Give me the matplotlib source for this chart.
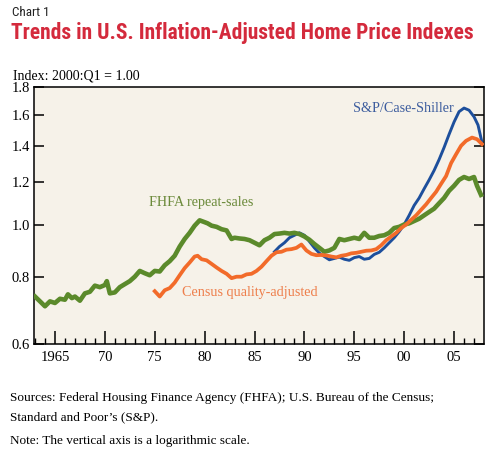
import numpy as np
import matplotlib
matplotlib.use("Agg")
import matplotlib.pyplot as plt
from matplotlib.ticker import FixedLocator, NullFormatter, FixedFormatter

# FHFA repeat-sales index
fhfa_year = [1963.0, 1963.5, 1964.0, 1964.5, 1965.0, 1965.5, 1966.0, 1966.3, 1966.7, 1967.0,
             1967.5, 1968.0, 1968.5, 1969.0, 1969.5, 1970.0, 1970.2, 1970.5, 1971.0, 1971.5,
             1972.0, 1972.5, 1973.0, 1973.5, 1974.0, 1974.5, 1975.0, 1975.5, 1976.0, 1976.5,
             1977.0, 1977.5, 1978.0, 1978.5, 1979.0, 1979.5, 1980.0, 1980.3, 1980.7, 1981.2,
             1981.7, 1982.2, 1982.7, 1983.0, 1983.5, 1984.0, 1984.5, 1985.0, 1985.5, 1986.0,
             1986.5, 1987.0, 1987.5, 1988.0, 1988.5, 1989.0, 1989.5, 1990.0, 1990.5, 1991.0,
             1991.5, 1992.0, 1992.5, 1993.0, 1993.5, 1994.0, 1994.5, 1995.0, 1995.5, 1996.0,
             1996.5, 1997.0, 1997.5, 1998.0, 1998.5, 1999.0, 1999.5, 2000.0, 2000.5, 2001.0,
             2001.5, 2002.0, 2002.5, 2003.0, 2003.5, 2004.0, 2004.5, 2005.0, 2005.5, 2006.0,
             2006.5, 2007.0, 2007.3, 2007.7]
fhfa_val = [0.735, 0.72, 0.705, 0.72, 0.715, 0.728, 0.725, 0.742, 0.73, 0.735,
            0.722, 0.745, 0.75, 0.77, 0.765, 0.772, 0.785, 0.745, 0.748, 0.765,
            0.775, 0.785, 0.80, 0.82, 0.812, 0.805, 0.82, 0.818, 0.84, 0.855,
            0.875, 0.91, 0.94, 0.965, 0.995, 1.018, 1.01, 1.005, 0.995, 0.99,
            0.98, 0.975, 0.94, 0.945, 0.942, 0.94, 0.935, 0.925, 0.915, 0.935,
            0.945, 0.96, 0.962, 0.965, 0.962, 0.965, 0.96, 0.95, 0.937, 0.92,
            0.905, 0.89, 0.895, 0.905, 0.94, 0.935, 0.94, 0.945, 0.94, 0.965,
            0.945, 0.945, 0.952, 0.955, 0.965, 0.985, 0.99, 1.0, 1.005, 1.015,
            1.025, 1.04, 1.055, 1.07, 1.095, 1.12, 1.155, 1.18, 1.21, 1.225,
            1.215, 1.225, 1.18, 1.135]

# S&P/Case-Shiller
cs_year = [1987.0, 1987.5, 1988.0, 1988.5, 1989.0, 1989.5, 1990.0, 1990.5, 1991.0, 1991.5,
           1992.0, 1992.5, 1993.0, 1993.5, 1994.0, 1994.5, 1995.0, 1995.5, 1996.0, 1996.5,
           1997.0, 1997.5, 1998.0, 1998.5, 1999.0, 1999.5, 2000.0, 2000.5, 2001.0, 2001.5,
           2002.0, 2002.5, 2003.0, 2003.5, 2004.0, 2004.5, 2005.0, 2005.5, 2006.0, 2006.5,
           2007.0, 2007.4, 2007.8]
cs_val = [0.89, 0.91, 0.925, 0.945, 0.955, 0.965, 0.955, 0.93, 0.905, 0.885,
          0.872, 0.86, 0.865, 0.87, 0.862, 0.858, 0.868, 0.872, 0.862, 0.865,
          0.88, 0.888, 0.905, 0.925, 0.945, 0.97, 1.0, 1.04, 1.085, 1.12,
          1.165, 1.21, 1.26, 1.32, 1.39, 1.47, 1.55, 1.62, 1.645, 1.63,
          1.585, 1.53, 1.42]

# Census quality-adjusted
census_year = [1975.0, 1975.5, 1976.0, 1976.5, 1977.0, 1977.5, 1978.0, 1978.5, 1979.0, 1979.3,
               1979.7, 1980.2, 1980.7, 1981.2, 1981.7, 1982.2, 1982.7, 1983.2, 1983.7, 1984.2,
               1984.7, 1985.2, 1985.7, 1986.2, 1986.7, 1987.2, 1987.7, 1988.2, 1988.7, 1989.2,
               1989.7, 1990.2, 1990.7, 1991.2, 1991.7, 1992.2, 1992.7, 1993.2, 1993.7, 1994.2,
               1994.7, 1995.2, 1995.7, 1996.2, 1996.7, 1997.2, 1997.7, 1998.2, 1998.7, 1999.2,
               1999.7, 2000.2, 2000.7, 2001.2, 2001.7, 2002.2, 2002.7, 2003.2, 2003.7, 2004.2,
               2004.7, 2005.2, 2005.7, 2006.2, 2006.8, 2007.3, 2007.8]
census_val = [0.752, 0.735, 0.755, 0.762, 0.78, 0.805, 0.83, 0.85, 0.872, 0.875,
              0.862, 0.858, 0.845, 0.832, 0.82, 0.81, 0.795, 0.80, 0.80, 0.808,
              0.81, 0.82, 0.835, 0.855, 0.875, 0.888, 0.89, 0.898, 0.90, 0.905,
              0.918, 0.895, 0.882, 0.877, 0.878, 0.876, 0.872, 0.869, 0.875, 0.878,
              0.884, 0.886, 0.89, 0.894, 0.895, 0.90, 0.915, 0.935, 0.95, 0.965,
              0.985, 1.0, 1.02, 1.04, 1.065, 1.09, 1.12, 1.15, 1.19, 1.23,
              1.3, 1.35, 1.4, 1.43, 1.45, 1.44, 1.41]

y_ticks = [0.6, 0.8, 1.0, 1.2, 1.4, 1.6, 1.8]
y_labels = ['0.6', '0.8', '1.0', '1.2', '1.4', '1.6', '1.8']
x_ticks = [1965, 1970, 1975, 1980, 1985, 1990, 1995, 2000, 2005]
x_labels = ['1965', '70', '75', '80', '85', '90', '95', '00', '05']

green = '#5b8a2b'
orange = '#f26b2a'
blue = '#1d4f9c'
serif = 'Liberation Serif'
narrow = ['Roboto Condensed', 'Liberation Sans Narrow', 'Liberation Sans']

fig = plt.figure(figsize=(5.04, 4.58), dpi=100)
fig.set_facecolor('w')
ax = fig.add_axes([34/504, 1-344/458, 450/504, 257/458])
ax.set_facecolor('#f6f2e9')

ax.plot(fhfa_year, fhfa_val, color=green, lw=3.3, zorder=3)
ax.plot(census_year, census_val, color=orange, lw=2.7, zorder=4)
ax.plot(cs_year, cs_val, color=blue, lw=2.1, zorder=2)

ax.set_yscale('log')
ax.set_ylim(0.6, 1.8)
ax.set_xlim(1962.9, 2008.0)
ax.yaxis.set_major_locator(FixedLocator(y_ticks))
ax.yaxis.set_major_formatter(FixedFormatter(y_labels))
ax.yaxis.set_minor_locator(FixedLocator([]))
ax.yaxis.set_minor_formatter(NullFormatter())
ax.xaxis.set_major_locator(FixedLocator(x_ticks))
ax.xaxis.set_major_formatter(FixedFormatter(x_labels))
ax.xaxis.set_minor_locator(FixedLocator(list(range(1963, 2008))))

ax.tick_params(axis='y', which='major', direction='in', length=7, width=1.1,
               left=True, right=True, labelsize=10.5, pad=3)
ax.tick_params(axis='x', which='major', direction='in', length=9.5, width=1.1,
               top=False, labelsize=10.5, pad=5)
ax.tick_params(axis='x', which='minor', direction='in', length=4.5, width=1.0, top=False)
for lab in ax.get_xticklabels() + ax.get_yticklabels():
    lab.set_family(serif)
for s in ax.spines.values():
    s.set_linewidth(1.1)

ax.text(1979.7, 1.10, 'FHFA repeat-sales', color='#6b8a3a', fontsize=10.2,
        family=serif, ha='center', va='center')
ax.text(1984.5, 0.749, 'Census quality-adjusted', color='#ee7f4c', fontsize=10.2,
        family=serif, ha='center', va='center')
ax.text(1999.9, 1.64, 'S&P/Case-Shiller', color='#3d5d9e', fontsize=10.2,
        family=serif, ha='center', va='center')

fig.text(12/504, 1-12/458, 'Chart 1', fontsize=9.5, family=narrow, va='center', color='#222222')
title = fig.text(11/504, 1-33/458, 'Trends in U.S. Inflation-Adjusted Home Price Indexes',
                 fontsize=16.5, family=narrow, fontweight='bold', color='#d42a3c', va='center')
# shrink the title until it fits the same width as the original (about 462 px)
fig.canvas.draw()
w = title.get_window_extent().width
if w > 462:
    title.set_fontsize(16.5 * 462 / w)

fig.text(13/504, 1-76/458, 'Index: 2000:Q1 = 1.00', fontsize=10, family=serif, va='center')
fig.text(10/504, 1-398/458, 'Sources: Federal Housing Finance Agency (FHFA); U.S. Bureau of the Census;',
         fontsize=9.5, family=serif, va='center')
fig.text(10/504, 1-417/458, 'Standard and Poor\u2019s (S&P).', fontsize=9.5, family=serif, va='center')
fig.text(10/504, 1-441/458, 'Note: The vertical axis is a logarithmic scale.', fontsize=9.5,
         family=serif, va='center')

fig.savefig('out.png', dpi=100)
